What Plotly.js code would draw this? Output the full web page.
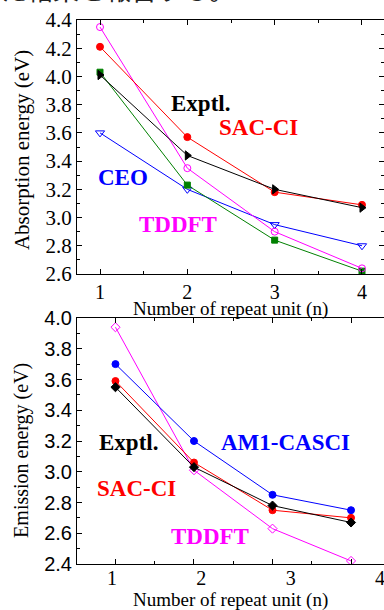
<!DOCTYPE html>
<html>
<head>
<meta charset="utf-8">
<script src="https://cdn.plot.ly/plotly-3.0.1.min.js"></script>
<style>html,body{margin:0;padding:0;background:#fff;}#chart{width:384px;height:610px;}</style>
</head>
<body>
<div id="chart"></div>
<script>
// ---- data ----
const nRepeat = [1, 2, 3, 4];
const tickLabels = ['1', '2', '3', '4'];

// Absorption energy (eV), top panel
const absExptl = [4.01, 3.44, 3.20, 3.07];
const absSACCI = [4.21, 3.57, 3.18, 3.09];
const absCEO = [3.60, 3.20, 2.95, 2.80];
const absTDDFT = [4.35, 3.35, 2.90, 2.64];
const absGreen = [4.03, 3.23, 2.84, 2.62];

// Emission energy (eV), bottom panel
const emiExptl = [3.55, 3.03, 2.78, 2.67];
const emiSACCI = [3.59, 3.06, 2.75, 2.70];
const emiAM1 = [3.70, 3.20, 2.85, 2.75];
const emiTDDFT = [3.94, 3.01, 2.63, 2.42];

const headerText = 'た結果を報告する。';
const xTitle = 'Number of repeat unit (n)';
const yTitleTop = 'Absorption energy (eV)';
const yTitleBottom = 'Emission energy (eV)';

const SERIF = 'Liberation Serif, Times New Roman, serif';
const SANS = 'Liberation Sans, Arial, sans-serif';

function tr(x, y, color, symbol, size, xa, ya, name) {
  return {
    x: x, y: y, xaxis: xa, yaxis: ya, name: name,
    type: 'scatter', mode: 'lines+markers', showlegend: false,
    line: {color: color, width: 1},
    marker: {color: color, symbol: symbol, size: size, line: {color: color, width: 1}}
  };
}

const traces = [
  tr(nRepeat, absCEO, '#0000ff', 'triangle-down-open', 8, 'x', 'y', 'CEO'),
  tr(nRepeat, absGreen, '#008000', 'square', 6, 'x', 'y', 'Green'),
  tr(nRepeat, absTDDFT, '#ff00ff', 'circle-open', 7, 'x', 'y', 'TDDFT'),
  tr(nRepeat, absSACCI, '#ff0000', 'circle', 7, 'x', 'y', 'SAC-CI'),
  tr(nRepeat, absExptl, '#000000', 'triangle-right', 8, 'x', 'y', 'Exptl.'),
  tr(nRepeat, emiTDDFT, '#ff00ff', 'diamond-open', 7, 'x2', 'y2', 'TDDFT'),
  tr(nRepeat, emiAM1, '#0000ff', 'circle', 7, 'x2', 'y2', 'AM1-CASCI'),
  tr(nRepeat, emiSACCI, '#ff0000', 'circle', 7, 'x2', 'y2', 'SAC-CI'),
  tr(nRepeat, emiExptl, '#000000', 'diamond', 7, 'x2', 'y2', 'Exptl.'),
  // carrier for the shifted tick-label axis of the bottom panel
  {x: nRepeat, y: nRepeat.map(() => null), xaxis: 'x3', yaxis: 'y2', type: 'scatter',
   mode: 'markers', showlegend: false, hoverinfo: 'skip'}
];

const axBase = {
  showline: true, linecolor: '#000', linewidth: 1,
  ticks: 'inside', ticklen: 5, tickcolor: '#000', tickwidth: 1,
  showgrid: false, zeroline: false
};

function lab(text, x, y, color, xr, yr) {
  return {text: '<b>' + text + '</b>', x: x, y: y, xref: xr, yref: yr, showarrow: false,
          font: {family: SERIF, size: 23, color: color}, xanchor: 'center', yanchor: 'middle'};
}
function title(text, x, y, angle, size) {
  return {text: text, xref: 'paper', yref: 'paper', x: x, y: y, textangle: angle,
          xanchor: 'center', yanchor: 'middle', showarrow: false,
          font: {family: SERIF, size: size, color: '#000'}};
}

const layout = {
  width: 384, height: 610,
  margin: {l: 77, r: 0, t: 20, b: 46},
  paper_bgcolor: '#fff', plot_bgcolor: '#fff',
  showlegend: false,
  xaxis: Object.assign({}, axBase, {
    domain: [0, 1], anchor: 'y', range: [0.7366, 4.252],
    tickvals: nRepeat, ticktext: tickLabels, mirror: 'ticks',
    minor: {dtick: 0.5, ticks: 'inside', ticklen: 3, tickcolor: '#000'},
    tickfont: {family: SERIF, size: 20, color: '#000'}, ticklabeloverflow: 'allow'
  }),
  yaxis: Object.assign({}, axBase, {
    domain: [0.5331, 1], anchor: 'x', range: [2.6, 4.4], dtick: 0.2, tick0: 2.6,
    tickformat: '.1f', mirror: 'ticks',
    minor: {dtick: 0.1, ticks: 'inside', ticklen: 3, tickcolor: '#000'},
    tickfont: {family: SERIF, size: 21, color: '#000'}
  }),
  xaxis2: Object.assign({}, axBase, {
    domain: [0, 1], anchor: 'y2', range: [0.51, 4.42],
    tickvals: nRepeat, showticklabels: false, mirror: 'ticks',
    minor: {dtick: 0.5, ticks: 'inside', ticklen: 3, tickcolor: '#000'}
  }),
  xaxis3: {
    overlaying: 'x2', anchor: 'y2', side: 'bottom', range: [0.608, 4.045],
    tickvals: nRepeat, ticktext: tickLabels, ticks: '', showline: false,
    showgrid: false, zeroline: false, ticklabeloverflow: 'allow',
    tickfont: {family: SERIF, size: 20, color: '#000'}
  },
  yaxis2: Object.assign({}, axBase, {
    domain: [0, 0.4522], anchor: 'x2', range: [2.4, 4.0], dtick: 0.2, tick0: 2.4,
    tickformat: '.1f', mirror: false,
    minor: {dtick: 0.1, ticks: 'inside', ticklen: 3, tickcolor: '#000'},
    tickfont: {family: SANS, size: 20, color: '#000'}
  }),
  annotations: [
    lab('Exptl.', 2.145, 3.805, '#000000', 'x', 'y'),
    lab('SAC-CI', 2.81, 3.635, '#ff0000', 'x', 'y'),
    lab('CEO', 1.263, 3.287, '#0000ff', 'x', 'y'),
    lab('TDDFT', 1.893, 2.954, '#ff00ff', 'x', 'y'),
    lab('Exptl.', 1.16, 3.193, '#000000', 'x2', 'y2'),
    lab('AM1-CASCI', 3.16, 3.193, '#0000ff', 'x2', 'y2'),
    lab('SAC-CI', 1.274, 2.888, '#ff0000', 'x2', 'y2'),
    lab('TDDFT', 2.204, 2.576, '#ff00ff', 'x2', 'y2'),
    title(xTitle, 0.5, 0.4695, 0, 19),
    title(xTitle, 0.5, -0.0662, 0, 19),
    title(yTitleTop, -0.179, 0.761, -90, 21),
    title(yTitleBottom, -0.179, 0.208, -90, 20),
    {text: headerText, xref: 'paper', yref: 'paper', x: -0.255, y: 1.021,
     xanchor: 'left', yanchor: 'bottom', showarrow: false,
     font: {family: 'Noto Sans CJK JP', size: 26, color: '#222'}}
  ]
};

Plotly.newPlot('chart', traces, layout, {displayModeBar: false, staticPlot: true});
</script>
</body>
</html>
